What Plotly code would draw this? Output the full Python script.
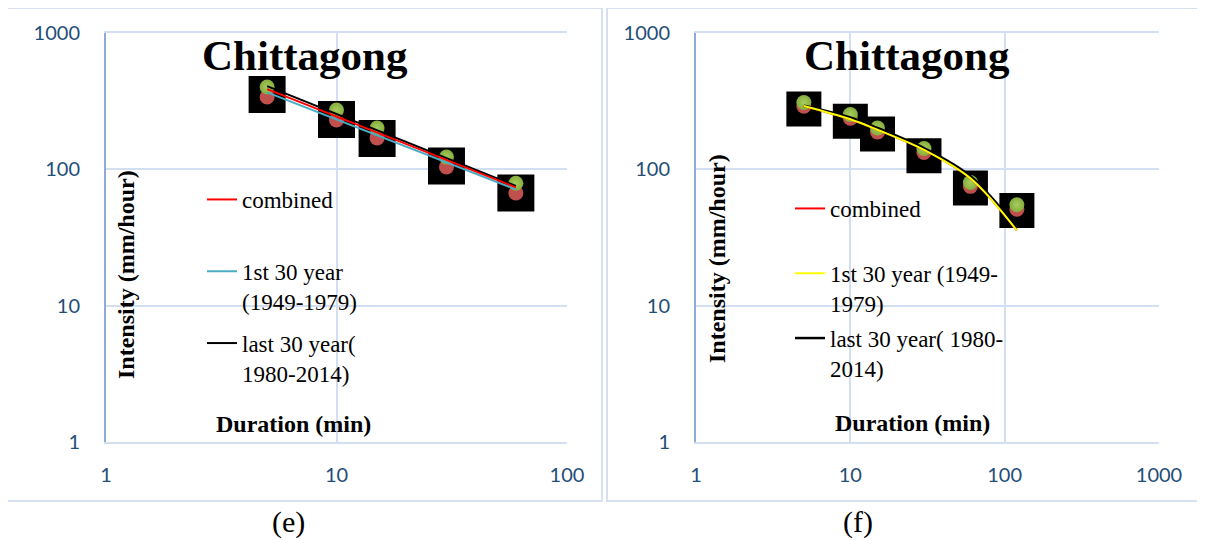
import plotly.graph_objects as go

# ---------------- data: panel (e) ----------------
dur_e = [5, 10, 15, 30, 60]
sq_e = [354, 232, 168, 106, 67]          # black square markers
red_e = [339, 230, 170, 104, 67]         # red circle markers
green_e = [402, 272, 201, 123, 79]       # green circle markers
trend_dur_e = [5, 60]
comb_e = [388, 73.8]
first_e = [367, 71.3]
last_e = [408, 75.5]

# ---------------- data: panel (f) ----------------
dur_f = [5, 10, 15, 30, 60, 120]
sq_f = [277, 225, 182, 126, 73, 49.8]
red_f = [290, 237, 188, 133, 75, 51]
green_f = [309, 252, 201, 142, 80, 55]
comb_f = [291, 233, 195, 139, 86, 35.6]
first_f = [291, 233, 195, 139, 86, 35.6]
last_f = [293, 240, 201, 143, 89, 37]

names_e = ["combined<br> ", "1st 30 year<br>(1949-1979)", "last 30 year(<br>1980-2014)"]
names_f = ["combined<br> ", "1st 30 year (1949-<br>1979)", "last 30 year( 1980-<br>2014)"]
xticks_e = [1, 10, 100]
xticks_f = [1, 10, 100, 1000]
yticks = [1, 10, 100, 1000]

# page geometry (the page body adds an 8px offset)
W, H, OFF = 1205, 540, 8
FW, FH = W - OFF, H - OFF


def px(x):
    return (x - OFF) / FW


def py(y):
    return 1 - (y - OFF) / FH


SERIF = "Liberation Serif, Times New Roman, serif"
TICKFONT = dict(family="Lato, Carlito, Calibri, sans-serif", size=20, color="#1F4E79")
GRID = "#d2def2"

fig = go.Figure()


def add_markers(xa, ya, dur, sq, red, green, sqsize):
    fig.add_trace(go.Scatter(x=dur, y=sq, mode="markers", xaxis=xa, yaxis=ya, showlegend=False,
                             marker=dict(symbol="square", size=sqsize, color="black", line=dict(width=0)),
                             hoverinfo="skip"))
    fig.add_trace(go.Scatter(x=dur, y=red, mode="markers", xaxis=xa, yaxis=ya, showlegend=False,
                             marker=dict(symbol="circle", size=15, color="#c0504d", line=dict(width=0)),
                             hoverinfo="skip"))
    fig.add_trace(go.Scatter(x=dur, y=green, mode="markers", xaxis=xa, yaxis=ya, showlegend=False,
                             marker=dict(symbol="circle", size=15, color="#84ad3c",
                                         gradient=dict(type="radial", color="#a8cd60"),
                                         line=dict(width=0)),
                             hoverinfo="skip"))


add_markers("x", "y", dur_e, sq_e, red_e, green_e, 37)
add_markers("x2", "y2", dur_f, sq_f, red_f, green_f, 35)

# panel (e) trend lines
fig.add_trace(go.Scatter(x=trend_dur_e, y=first_e, mode="lines", xaxis="x", yaxis="y", name=names_e[1],
                         line=dict(color="#4bacc6", width=2), legend="legend", legendgroup="e2", legendrank=2))
fig.add_trace(go.Scatter(x=trend_dur_e, y=last_e, mode="lines", xaxis="x", yaxis="y", name=names_e[2],
                         line=dict(color="black", width=2), legend="legend", legendgroup="e3", legendrank=3))
fig.add_trace(go.Scatter(x=trend_dur_e, y=comb_e, mode="lines", xaxis="x", yaxis="y", name=names_e[0],
                         line=dict(color="#ff0000", width=2), legend="legend", legendgroup="e1", legendrank=1))

# panel (f) trend curves
fig.add_trace(go.Scatter(x=dur_f, y=comb_f, mode="lines", xaxis="x2", yaxis="y2", name=names_f[0],
                         line=dict(color="#ff0000", width=2, shape="spline"), legend="legend2",
                         legendgroup="f1", legendrank=1))
fig.add_trace(go.Scatter(x=dur_f, y=last_f, mode="lines", xaxis="x2", yaxis="y2", name=names_f[2],
                         line=dict(color="black", width=2.5, shape="spline"), legend="legend2",
                         legendgroup="f3", legendrank=3))
fig.add_trace(go.Scatter(x=dur_f, y=first_f, mode="lines", xaxis="x2", yaxis="y2", name=names_f[1],
                         line=dict(color="#ffff00", width=2, shape="spline"), legend="legend2",
                         legendgroup="f2", legendrank=2))

ydom = [py(442), py(33)]


def xaxis(dom, rng, tickvals, anchor):
    return dict(type="log", domain=dom, range=rng, tickvals=tickvals, ticktext=[str(v) for v in tickvals],
                anchor=anchor,
                showgrid=True, gridcolor=GRID, gridwidth=2, showline=True, linecolor=GRID, linewidth=2,
                mirror=True, zeroline=False, ticks="", tickfont=TICKFONT, ticklabelstandoff=14,
                automargin=False, fixedrange=True)


def yaxis(anchor):
    return dict(type="log", domain=ydom, range=[0, 3], tickvals=yticks,
                ticktext=[str(v) for v in yticks], anchor=anchor,
                showgrid=True, gridcolor=GRID, gridwidth=2, showline=True, linecolor="#8eaadb", linewidth=2,
                mirror=False, zeroline=False, ticks="", tickfont=TICKFONT, ticklabelstandoff=20,
                automargin=False, fixedrange=True)


legfont = dict(family=SERIF, size=23, color="black")

fig.update_layout(
    width=FW, height=FH,
    margin=dict(l=0, r=0, t=0, b=0),
    paper_bgcolor="white", plot_bgcolor="white",
    xaxis=xaxis([px(106), px(567)], [0, 2], xticks_e, "y"),
    yaxis=yaxis("x"),
    xaxis2=xaxis([px(696), px(1159)], [0, 3], xticks_f, "y2"),
    yaxis2=yaxis("x2"),
    legend=dict(x=px(202), y=py(178), xanchor="left", yanchor="top", bgcolor="rgba(0,0,0,0)",
                font=legfont, valign="top", tracegroupgap=9, traceorder="grouped"),
    legend2=dict(x=px(790), y=py(187), xanchor="left", yanchor="top", bgcolor="rgba(0,0,0,0)",
                 font=legfont, valign="top", tracegroupgap=2, traceorder="grouped"),
    showlegend=True,
)

# panel frames
for x0, x1 in [(7, 602), (607, 1203)]:
    fig.add_shape(type="rect", xref="paper", yref="paper", x0=px(x0), x1=px(x1), y0=py(501), y1=py(8),
                  line=dict(color="#d6e0f0", width=2), fillcolor="rgba(0,0,0,0)", layer="below")

ann = []
for cx, ix, iy, dx, dy, lab, lx in [(305, 126, 275, 293, 424, "(e)", 288), (907, 717, 259, 912, 423, "(f)", 858)]:
    common = dict(xref="paper", yref="paper", showarrow=False, xanchor="center", yanchor="middle")
    ann.append(dict(text="<b>Chittagong</b>", x=px(cx), y=py(55),
                    font=dict(family=SERIF, size=43, color="black"), **common))
    ann.append(dict(text="<b>Intensity (mm/hour)</b>", x=px(ix), y=py(iy), textangle=-90,
                    font=dict(family=SERIF, size=24, color="black"), **common))
    ann.append(dict(text="<b>Duration (min)</b>", x=px(dx), y=py(dy),
                    font=dict(family=SERIF, size=24, color="black"), **common))
    ann.append(dict(text=lab, x=px(lx), y=py(522),
                    font=dict(family=SERIF, size=30, color="black"), **common))
fig.update_layout(annotations=ann)

fig.write_html("out.html")
